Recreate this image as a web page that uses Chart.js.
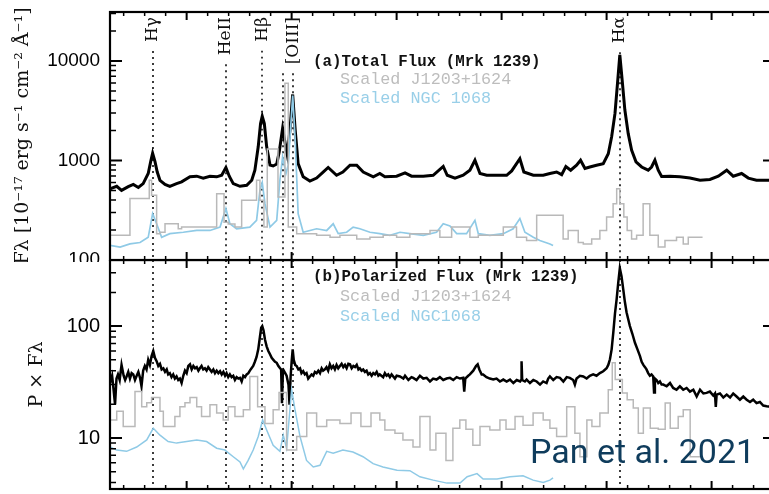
<!DOCTYPE html>
<html>
<head>
<meta charset="utf-8">
<script src="https://cdn.jsdelivr.net/npm/chart.js@4.4.1/dist/chart.umd.min.js"></script>
<style>
  html, body { margin: 0; padding: 0; background: #fff; overflow: hidden; }
  #wrap { position: relative; width: 769px; height: 494px; overflow: hidden; background: #fff; }
  canvas { position: absolute; left: 0; }
</style>
</head>
<body>
<div id="wrap">
  <canvas id="topPanel" width="790" height="262" style="top:0"></canvas>
  <canvas id="botPanel" width="790" height="234" style="top:260px"></canvas>
</div>
<script>
// ---- data (rest wavelength in Angstrom) ----

// (a) total flux, Mrk 1239
const waveTotal = [4135, 4167, 4190, 4222, 4246, 4270, 4293, 4317, 4329, 4338,
  4349, 4360, 4373, 4397, 4420, 4452, 4476, 4516, 4548, 4579,
  4611, 4643, 4667, 4687, 4703, 4722, 4754, 4786, 4810, 4825,
  4841, 4852, 4860, 4870, 4881, 4897, 4912, 4929, 4941, 4957,
  4968, 4979, 4992, 5005, 5017, 5031, 5055, 5087, 5119, 5150,
  5174, 5214, 5244, 5278, 5310, 5341, 5389, 5420, 5444, 5500,
  5540, 5571, 5627, 5674, 5722, 5741, 5778, 5817, 5849, 5873,
  5897, 5929, 5976, 6024, 6048, 6087, 6106, 6151, 6198, 6230,
  6262, 6286, 6306, 6329, 6357, 6376, 6397, 6420, 6452, 6484,
  6508, 6524, 6540, 6552, 6563, 6574, 6587, 6603, 6619, 6640,
  6667, 6698, 6714, 6730, 6746, 6762, 6802, 6849, 6897, 6945,
  6992, 7032, 7072, 7103, 7143, 7175, 7214, 7302];
const fluxTotal = [520, 550, 500, 545, 575, 535, 585, 740, 980, 1180,
  980, 765, 632, 575, 550, 585, 610, 685, 695, 665,
  695, 685, 710, 850, 695, 585, 550, 563, 632, 798,
  1380, 2350, 2780, 2350, 1380, 900, 880, 920, 1220, 2100,
  1540, 1150, 2020, 4600, 2020, 930, 685, 620, 665, 765,
  850, 710, 765, 895, 895, 765, 685, 740, 685, 695,
  750, 695, 695, 710, 870, 710, 665, 710, 798, 1005,
  740, 710, 710, 710, 785, 1040, 765, 710, 710, 740,
  765, 720, 870, 798, 895, 1005, 830, 860, 895, 930,
  1170, 1730, 2970, 5970, 11500, 6440, 3210, 1860, 1270, 970,
  860, 798, 860, 1005, 798, 690, 695, 685, 665, 632,
  645, 695, 798, 695, 740, 665, 632, 632];

// (a) scaled J1203+1624 (binned, left bin edges; last entry closes the last bin)
const waveJ1203Top = [4135, 4230, 4322, 4333, 4357, 4373, 4397, 4460, 4476, 4643,
  4678, 4698, 4730, 4762, 4833, 4849, 4868, 4884, 4935, 4968,
  4984, 5024, 5048, 5119, 5183, 5230, 5310, 5373, 5436, 5500,
  5563, 5659, 5706, 5762, 5849, 5889, 6008, 6071, 6119, 6167,
  6293, 6317, 6365, 6389, 6429, 6468, 6500, 6531, 6548, 6563,
  6582, 6598, 6619, 6643, 6674, 6706, 6746, 6778, 6833, 6865,
  6889, 6929, 6957];
const fluxJ1203Top = [184, 177, 414, 632, 447, 184, 190, 231, 206, 214,
  464, 240, 230, 214, 398, 632, 398, 214, 1300, 430,
  5970, 214, 184, 184, 177, 169, 177, 163, 169, 177,
  169, 184, 198, 169, 214, 169, 177, 214, 169, 157,
  281, 163, 198, 150, 145, 163, 198, 270, 368, 520,
  368, 270, 198, 163, 177, 368, 177, 135, 157, 169,
  145, 169, 169];

// (a) scaled NGC 1068
const waveNGCTop = [4135, 4183, 4230, 4278, 4317, 4338, 4357, 4381, 4420, 4484,
  4548, 4611, 4659, 4687, 4706, 4738, 4801, 4833, 4849, 4860,
  4873, 4897, 4929, 4944, 4957, 4973, 4984, 5005, 5017, 5031,
  5055, 5119, 5167, 5198, 5222, 5262, 5293, 5325, 5373, 5420,
  5468, 5516, 5563, 5627, 5690, 5722, 5754, 5786, 5833, 5873,
  5889, 5944, 6008, 6055, 6087, 6111, 6151, 6182, 6230, 6245];
const fluxNGCTop = [140, 135, 145, 150, 169, 292, 231, 169, 184, 190,
  198, 198, 214, 328, 231, 206, 214, 250, 500, 600,
  368, 214, 250, 632, 1085, 740, 900, 4500, 1600, 292,
  190, 206, 198, 231, 184, 190, 214, 206, 190, 184,
  177, 190, 184, 177, 190, 231, 220, 184, 184, 250,
  184, 177, 184, 206, 261, 190, 169, 157, 145, 140];

// (b) polarized flux, Mrk 1239
const wavePol = [4135, 4145, 4152, 4159, 4166, 4173, 4181, 4190, 4200, 4207,
  4214, 4222, 4230, 4238, 4246, 4254, 4262, 4270, 4278, 4285,
  4293, 4301, 4309, 4317, 4325, 4333, 4341, 4349, 4357, 4365,
  4373, 4381, 4389, 4397, 4405, 4412, 4420, 4428, 4436, 4444,
  4452, 4460, 4468, 4476, 4484, 4492, 4500, 4508, 4516, 4524,
  4532, 4540, 4548, 4556, 4563, 4571, 4579, 4587, 4595, 4603,
  4611, 4619, 4627, 4635, 4643, 4651, 4659, 4667, 4675, 4683,
  4690, 4698, 4706, 4714, 4722, 4730, 4738, 4746, 4754, 4762,
  4770, 4778, 4786, 4794, 4801, 4809, 4817, 4825, 4833, 4841,
  4849, 4855, 4860, 4866, 4873, 4881, 4889, 4897, 4905, 4913,
  4921, 4929, 4937, 4945, 4950, 4954, 4958, 4963, 4968, 4976,
  4985, 4990, 4995, 5000, 5005, 5010, 5017, 5024, 5032, 5040,
  5047, 5055, 5063, 5071, 5079, 5087, 5095, 5103, 5111, 5119,
  5127, 5135, 5143, 5150, 5158, 5166, 5174, 5182, 5190, 5198,
  5206, 5214, 5222, 5230, 5238, 5246, 5254, 5262, 5270, 5278,
  5286, 5294, 5302, 5310, 5318, 5325, 5333, 5341, 5349, 5357,
  5365, 5373, 5381, 5389, 5397, 5405, 5413, 5420, 5436, 5444,
  5452, 5460, 5468, 5476, 5492, 5500, 5516, 5532, 5540, 5556,
  5571, 5579, 5595, 5611, 5627, 5643, 5659, 5674, 5690, 5706,
  5722, 5738, 5754, 5770, 5786, 5802, 5817, 5822, 5827, 5841,
  5849, 5865, 5878, 5886, 5894, 5905, 5912, 5928, 5944, 5960,
  5976, 5992, 6008, 6024, 6040, 6056, 6072, 6088, 6093, 6095,
  6098, 6111, 6119, 6135, 6151, 6167, 6183, 6198, 6214, 6222,
  6230, 6246, 6262, 6278, 6294, 6310, 6325, 6341, 6349, 6357,
  6373, 6389, 6405, 6420, 6436, 6452, 6468, 6484, 6500, 6508,
  6516, 6524, 6532, 6540, 6548, 6556, 6563, 6571, 6579, 6587,
  6595, 6603, 6611, 6623, 6635, 6647, 6659, 6667, 6675, 6683,
  6690, 6698, 6706, 6714, 6722, 6726, 6730, 6738, 6746, 6754,
  6762, 6770, 6786, 6802, 6817, 6833, 6849, 6865, 6881, 6897,
  6913, 6929, 6945, 6961, 6976, 6992, 7008, 7016, 7020, 7024,
  7040, 7056, 7072, 7088, 7103, 7119, 7135, 7151, 7167, 7183,
  7198, 7214, 7230, 7246, 7262, 7302];
const fluxPol = [31, 36, 27, 20, 34, 37, 33, 45, 36, 33,
  35.5, 39, 34, 38, 37, 33, 36, 39, 34.5, 29,
  40, 44, 41, 50, 45, 54, 60, 52, 48.6, 44,
  46, 41, 42, 39, 41, 37, 38, 35, 37, 34,
  35.5, 33, 34, 31, 36, 40, 38, 44, 45.5, 41,
  44, 42, 43, 40, 42, 44, 41, 42, 40, 43,
  41, 39, 41, 38, 40, 38, 39.5, 37, 39, 36,
  38, 35, 37, 35, 36, 33, 35, 34, 34.5, 32,
  36, 35, 37, 38, 40, 42, 44, 48, 53, 62,
  80, 97, 100, 92, 76, 66, 60, 56, 52, 50,
  48, 47, 44, 42, 41, 20.5, 37, 40, 38.5, 36,
  30, 19.8, 35, 48, 62, 50, 45, 44, 41, 42,
  38, 39.5, 37, 38, 34, 35.5, 37, 36, 39, 38,
  40, 38, 42, 40, 41, 43, 40, 45.5, 42, 44,
  41, 45, 42, 44, 46, 43, 45, 42, 46, 45.5,
  42, 44, 43, 45, 41, 42, 40, 41, 39, 40,
  37, 38, 36, 38, 37, 39, 36, 37, 35, 38,
  36, 37, 35, 37, 34, 36, 35.5, 34, 36, 33,
  35, 34.5, 33, 36, 34, 34.5, 32, 34, 33.3, 35,
  33, 34, 34.5, 33, 35, 34, 34.5, 26, 34, 36,
  37, 40, 44, 45.5, 41, 37, 37, 35, 34, 33.3,
  34, 32, 33.3, 32, 33.3, 31, 33, 32, 33, 48.6,
  33, 32, 33.3, 31, 33, 32, 30, 32, 31, 34,
  35.5, 33, 35, 34.5, 32, 35, 34.5, 33, 30, 34,
  36, 35.5, 34, 36, 37, 36, 38, 39.5, 42, 45,
  50.5, 62, 88, 130, 175, 250, 330, 280, 215, 165,
  133, 115, 100, 85, 71, 62, 54, 48, 45, 43,
  41, 38, 36, 37, 35.5, 25.5, 34, 33, 31, 32,
  30, 30, 29, 31, 28, 27, 29, 27, 28, 26,
  27, 23.5, 27, 25, 25.3, 26, 24, 25, 19, 24.4,
  25, 23, 24.4, 23, 25, 23.5, 22, 23.5, 22, 21,
  22, 20.5, 21, 19.5, 19.2, 18.8];

// (b) scaled J1203+1624 (binned, left bin edges)
const waveJ1203Bot = [4135, 4167, 4198, 4254, 4286, 4310, 4333, 4373, 4389, 4444,
  4468, 4492, 4516, 4548, 4571, 4611, 4643, 4674, 4698, 4730,
  4770, 4801, 4838, 4873, 4912, 4940, 4976, 5024, 5072, 5119,
  5167, 5230, 5283, 5330, 5378, 5420, 5444, 5492, 5530, 5578,
  5611, 5659, 5687, 5735, 5768, 5801, 5830, 5863, 5897, 5944,
  5992, 6021, 6064, 6102, 6150, 6198, 6230, 6262, 6310, 6349,
  6373, 6406, 6430, 6468, 6508, 6527, 6541, 6575, 6598, 6627,
  6651, 6675, 6708, 6746, 6779, 6803, 6841, 6865, 6898, 6932,
  6957];
const fluxJ1203Bot = [15.5, 14.5, 17.3, 12.7, 26, 19, 20.7, 23, 17.3, 12.7,
  15.6, 19, 20.7, 23, 19, 15.6, 19.8, 16.7, 14.5, 19,
  15.6, 17.9, 35.5, 19, 13.5, 17.9, 25.5, 7.8, 10.3, 16.7,
  12.7, 14.5, 13.5, 16.7, 12.7, 16.7, 14.5, 11.8, 11, 9.6,
  8.3, 15.6, 7.8, 11, 6.3, 12.2, 14.5, 12, 8.6, 12.7,
  11.8, 14.5, 12, 15.6, 13, 16.7, 14.5, 12.2, 10.3, 19,
  11, 6.8, 14.5, 12.7, 16.7, 27, 47, 33.3, 25.3, 22,
  18.5, 11, 18.5, 12.2, 12, 20.5, 12.2, 15.6, 17.9, 6.8,
  6.8];

// (b) scaled NGC 1068
const waveNGCBot = [4135, 4167, 4214, 4262, 4310, 4341, 4373, 4412, 4452, 4500,
  4548, 4595, 4643, 4682, 4722, 4754, 4770, 4793, 4817, 4841,
  4862, 4881, 4912, 4944, 4960, 4976, 5000, 5016, 5040, 5071,
  5103, 5135, 5167, 5198, 5244, 5292, 5340, 5388, 5435, 5502,
  5563, 5611, 5674, 5740, 5802, 5836, 5883, 5912, 5978, 6040,
  6102, 6150, 6198, 6230, 6245];
const fluxNGCBot = [8.3, 7.8, 7.6, 8.3, 9.6, 12.2, 10.6, 9.3, 9.0, 9.3,
  9.6, 9.3, 8.1, 7.8, 6.8, 6.1, 5.3, 6.3, 7.8, 10.3,
  14.5, 11.8, 8.6, 7.6, 10.6, 8.1, 27, 17.9, 10.3, 6.3,
  5.5, 5.7, 7.6, 7.3, 7.8, 7.5, 6.8, 5.9, 5.5, 5.15,
  5.1, 4.5, 4.2, 3.95, 3.95, 4.5, 4.8, 4.3, 4.3, 4.5,
  4.6, 4.2, 4.0, 4.2, 4.4];

// emission lines marked with dotted lines
const lineNames = ['Hγ', 'HeII', 'Hβ', '', '[OIII]', 'Hα'];
const lineWaves = [4340, 4686, 4861, 4959, 5007, 6563];

// axis ticks
const xMajorTicks = [4500, 5000, 5500, 6000, 6500, 7000];
const xMinorTicks = [4200, 4300, 4400, 4600, 4700, 4800, 4900, 5100, 5200, 5300,
  5400, 5600, 5700, 5800, 5900, 6100, 6200, 6300, 6400, 6600, 6700, 6800, 6900,
  7100, 7200];
const yTicksTop = [100, 1000, 10000];
const yMinorTop = [200, 300, 400, 500, 600, 700, 800, 900, 2000, 3000, 4000, 5000,
  6000, 7000, 8000, 9000, 20000, 30000];
const yTicksBot = [10, 100];
const yMinorBot = [4, 5, 6, 7, 8, 9, 20, 30, 40, 50, 60, 70, 80, 90, 200, 300];

// ---- drawing ----
const LABEL_FONT = '17px "DejaVu Serif"';
const GREY = '#b9b9b9';
const BLUE = '#8fcae6';

function pts(w, f) { return w.map((v, i) => ({x: v, y: f[i]})); }

const panelDecor = {
  id: 'panelDecor',
  beforeDatasetsDraw(chart, args, o) {
    const {ctx, chartArea: a, scales: {x}} = chart;
    ctx.save();
    ctx.font = LABEL_FONT;
    const starts = lineNames.map(n => n ? 17 + ctx.measureText(n).width + 9 : null);
    for (let i = starts.length - 1; i >= 0; i--) if (starts[i] === null) starts[i] = starts[i + 1];
    ctx.strokeStyle = '#333';
    ctx.lineWidth = 1.9;
    ctx.setLineDash([1.9, 4.1]);
    lineWaves.forEach((w, i) => {
      const px = Math.round(x.getPixelForValue(w));
      ctx.beginPath();
      ctx.moveTo(px, o.lineLabels ? starts[i] : a.top);
      ctx.lineTo(px, a.bottom);
      ctx.stroke();
    });
    ctx.restore();
  },
  afterDatasetsDraw(chart, args, o) {
    const {ctx, chartArea: a, scales: {x, y}} = chart;
    ctx.save();
    ctx.strokeStyle = '#000';
    // inward ticks
    const tickX = (vals, len, lw) => {
      ctx.lineWidth = lw;
      ctx.beginPath();
      vals.forEach(v => {
        const px = x.getPixelForValue(v);
        ctx.moveTo(px, a.top); ctx.lineTo(px, a.top + len);
        ctx.moveTo(px, a.bottom); ctx.lineTo(px, a.bottom - len);
      });
      ctx.stroke();
    };
    const tickY = (vals, len, lw) => {
      ctx.lineWidth = lw;
      ctx.beginPath();
      vals.forEach(v => {
        const py = y.getPixelForValue(v);
        ctx.moveTo(a.left, py); ctx.lineTo(a.left + len, py);
        ctx.moveTo(a.right, py); ctx.lineTo(a.right - len, py);
      });
      ctx.stroke();
    };
    tickX(xMinorTicks, 4, 1.5);
    tickX(xMajorTicks, 8, 2);
    tickY(o.yMinor, 6, 1.5);
    tickY(o.yMajor, 12, 2);
    // frame
    ctx.lineWidth = 2.2;
    ctx.strokeRect(a.left, a.top, a.right - a.left, a.bottom - a.top);

    if (o.lineLabels) {
      ctx.fillStyle = '#111';
      ctx.font = LABEL_FONT;
      ctx.textAlign = 'right';
      ctx.textBaseline = 'middle';
      lineWaves.forEach((w, i) => {
        if (!lineNames[i]) return;
        ctx.save();
        ctx.translate(x.getPixelForValue(w), 17);
        ctx.rotate(-Math.PI / 2);
        ctx.fillText(lineNames[i], 0, 0);
        ctx.restore();
      });
    }
    o.texts.forEach(t => {
      ctx.font = t.font;
      ctx.fillStyle = t.color;
      ctx.textAlign = 'left';
      ctx.textBaseline = t.baseline || 'middle';
      ctx.fillText(t.text, t.x, t.y);
    });
    ctx.restore();
  }
};

Chart.defaults.font.family = '"Liberation Sans", Arial, sans-serif';
Chart.defaults.color = '#000';

function yAxis(min, max, ticks, size, title, titlePad) {
  return {
    type: 'logarithmic', min: min, max: max,
    afterBuildTicks: s => { s.ticks = ticks.map(v => ({value: v})); },
    afterFit: s => { s.width = 110; s.paddingTop = 0; s.paddingBottom = 0; },
    grid: {display: false, drawTicks: false},
    border: {display: false},
    ticks: {padding: 10, color: '#000', font: {size: size}, callback: v => String(v)},
    title: {display: true, text: title, color: '#111',
      font: {family: '"DejaVu Serif"', size: 19}, padding: {top: titlePad, bottom: 0}}
  };
}

function lineSet(data, color, width, stepped) {
  return {data: data, borderColor: color, borderWidth: width, pointRadius: 0,
    tension: 0, stepped: stepped || false, fill: false};
}

new Chart(document.getElementById('topPanel'), {
  type: 'line',
  data: {datasets: [
    lineSet(pts(waveJ1203Top, fluxJ1203Top), GREY, 1.5, 'after'),
    lineSet(pts(waveNGCTop, fluxNGCTop), BLUE, 1.7),
    lineSet(pts(waveTotal, fluxTotal), '#000', 3)
  ]},
  options: {
    responsive: false, animation: false,
    layout: {padding: {top: 12, bottom: 2, left: 0, right: 15}},
    plugins: {
      legend: {display: false}, tooltip: {enabled: false},
      panelDecor: {
        lineLabels: true, yMajor: yTicksTop, yMinor: yMinorTop,
        texts: [
          {text: '(a)Total Flux (Mrk 1239)', x: 313, y: 62, font: 'bold 15.8px "Liberation Mono"', color: '#111'},
          {text: 'Scaled J1203+1624', x: 340, y: 80, font: '16.8px "Liberation Mono"', color: '#bdbdbd'},
          {text: 'Scaled NGC 1068', x: 340, y: 99, font: '16.8px "Liberation Mono"', color: '#99cfe8'}
        ]
      }
    },
    scales: {
      x: {type: 'linear', min: 4135, max: 7302, display: false},
      y: yAxis(100, 31000, yTicksTop, 19, 'Fλ [10⁻¹⁷ erg s⁻¹ cm⁻² Å⁻¹]', 12)
    }
  },
  plugins: [panelDecor]
});

new Chart(document.getElementById('botPanel'), {
  type: 'line',
  data: {datasets: [
    lineSet(pts(waveJ1203Bot, fluxJ1203Bot), GREY, 1.5, 'after'),
    lineSet(pts(waveNGCBot, fluxNGCBot), BLUE, 1.5),
    lineSet(pts(wavePol, fluxPol), '#000', 2.5)
  ]},
  options: {
    responsive: false, animation: false,
    layout: {padding: {top: 0, bottom: 5, left: 0, right: 15}},
    plugins: {
      legend: {display: false}, tooltip: {enabled: false},
      panelDecor: {
        lineLabels: false, yMajor: yTicksBot, yMinor: yMinorBot,
        texts: [
          {text: '(b)Polarized Flux (Mrk 1239)', x: 313, y: 17, font: 'bold 15.8px "Liberation Mono"', color: '#111'},
          {text: 'Scaled J1203+1624', x: 340, y: 37, font: '16.8px "Liberation Mono"', color: '#bdbdbd'},
          {text: 'Scaled NGC1068', x: 340, y: 57, font: '16.8px "Liberation Mono"', color: '#99cfe8'},
          {text: 'Pan et al. 2021', x: 530, y: 203, font: '34px Roboto', color: '#0f3c5c', baseline: 'alphabetic'}
        ]
      }
    },
    scales: {
      x: {type: 'linear', min: 4135, max: 7302, display: false},
      y: yAxis(3.5, 390, yTicksBot, 20, 'P × Fλ', 26)
    }
  },
  plugins: [panelDecor]
});
</script>
</body>
</html>
